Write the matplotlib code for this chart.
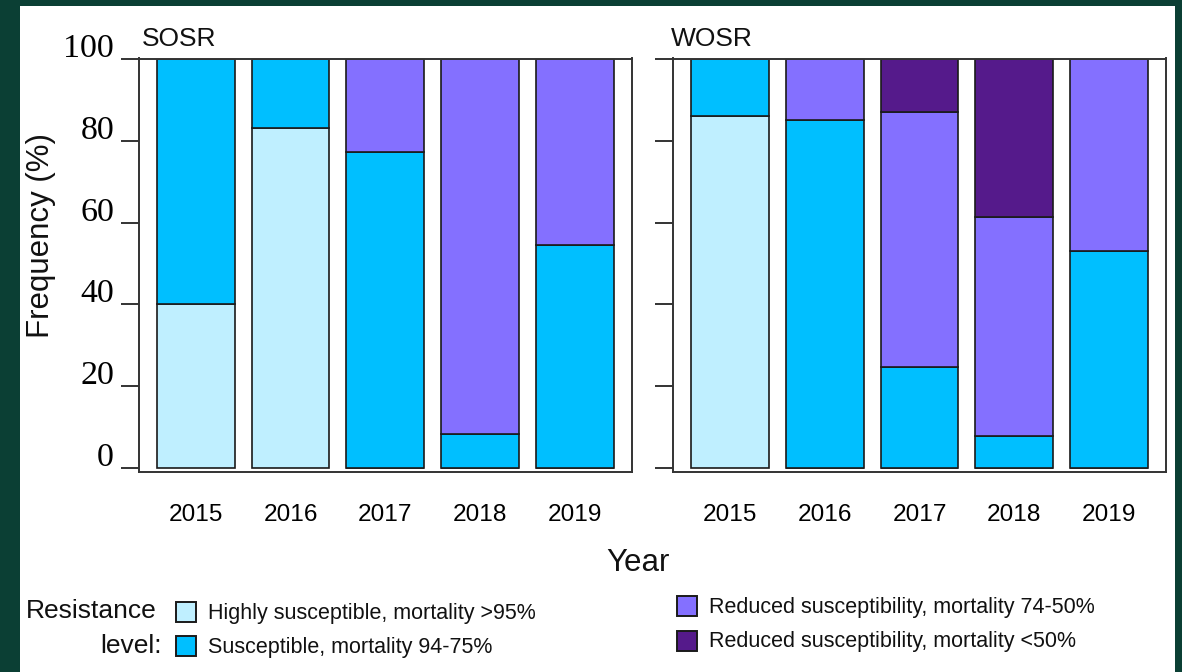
import matplotlib
matplotlib.use('Agg')
import matplotlib.pyplot as plt
from matplotlib import font_manager
from matplotlib.patches import Rectangle
from matplotlib.transforms import ScaledTranslation

# data (percent of populations per resistance class)
years = ['2015', '2016', '2017', '2018', '2019']
panels = ['SOSR', 'WOSR']

sosr_hs = [40.0, 83.2, 0, 0, 0]
sosr_s = [60.0, 16.8, 77.4, 8.3, 54.5]
sosr_rs = [0, 0, 22.6, 91.7, 45.5]
sosr_r = [0, 0, 0, 0, 0]

wosr_hs = [86.1, 0, 0, 0, 0]
wosr_s = [13.9, 85.2, 24.8, 7.7, 53.0]
wosr_rs = [0, 14.8, 62.3, 53.6, 47.0]
wosr_r = [0, 0, 12.9, 38.7, 0]

class_labels = ['Highly susceptible, mortality >95%',
                'Susceptible, mortality 94-75%',
                'Reduced susceptibility, mortality 74-50%',
                'Reduced susceptibility, mortality <50%']
class_colors = ['#BFEFFF', '#00BFFF', '#8470FF', '#551A8B']
yticks = [0, 20, 40, 60, 80, 100]

W, H = 1182, 672
names = set(f.name for f in font_manager.fontManager.ttflist)
if 'Liberation Sans Narrow' in names:
    narrow, nscale = 'Liberation Sans Narrow', 1.0
else:
    narrow, nscale = 'Liberation Sans', 0.9
sans = 'Liberation Sans'
serif = 'Liberation Serif'


def fx(px):
    return px / W


def fy(py):
    return 1 - py / H


fig = plt.figure(figsize=(W / 100, H / 100), dpi=100, facecolor='#0b3f34')
fig.patches.append(Rectangle((fx(20), 0), fx(1175) - fx(20), fy(6), transform=fig.transFigure,
                             facecolor='white', edgecolor='none', zorder=-5))

ax_left = fig.add_axes([fx(139), fy(472), fx(631.5) - fx(139), fy(58.5) - fy(472)])
ax_right = fig.add_axes([fx(673), fy(472), fx(1166) - fx(673), fy(58.5) - fy(472)])

data = [[sosr_hs, sosr_s, sosr_rs, sosr_r], [wosr_hs, wosr_s, wosr_rs, wosr_r]]
x = list(range(len(years)))
lift = ScaledTranslation(0, 14 / 100, fig.dpi_scale_trans)

for ax, name, stack in zip([ax_left, ax_right], panels, data):
    ax.set_facecolor('white')
    bottom = [0.0] * len(years)
    for vals, col in zip(stack, class_colors):
        ax.bar(x, vals, bottom=bottom, width=0.82, color=col, edgecolor='#1a1a1a', linewidth=1.2)
        bottom = [b + v for b, v in zip(bottom, vals)]
    ax.set_xlim(-0.6, 4.6)
    ax.set_ylim(-1, 100.2)
    ax.set_xticks(x)
    ax.set_xticklabels(years, family=narrow, fontsize=19.5 * nscale)
    ax.tick_params(axis='x', length=0, pad=23)
    ax.set_yticks(yticks)
    ax.tick_params(axis='y', length=13, width=1.4, color='#333333', pad=5)
    for sp in ax.spines.values():
        sp.set_linewidth(1.4)
        sp.set_color('#333333')

fig.text(fx(142), fy(46), panels[0], family=sans, fontsize=19, ha='left', va='baseline', color='#111111')
fig.text(fx(671), fy(46), panels[1], family=sans, fontsize=19, ha='left', va='baseline', color='#111111')

ax_left.set_yticklabels([str(t) for t in yticks], family=serif, fontsize=24.5)
for lab in ax_left.get_yticklabels():
    lab.set_transform(lab.get_transform() + lift)
ax_right.set_yticklabels([])

fig.text(fx(41), fy(235), 'Frequency (%)', rotation=90, ha='center', va='center',
         family=sans, fontsize=22.5, color='#111111')
fig.text(fx(638), fy(563), 'Year', ha='center', va='center', family=narrow,
         fontsize=25 * nscale, color='#111111')

# legend
fig.text(fx(157), fy(611), 'Resistance', ha='right', va='center', family=sans, fontsize=19, color='#111111')
fig.text(fx(162), fy(646), 'level:', ha='right', va='center', family=sans, fontsize=19, color='#111111')

legend_pos = [(176, 612), (176, 646), (677, 606), (677, 641)]
for (px, py), lab, col in zip(legend_pos, class_labels, class_colors):
    fig.patches.append(Rectangle((fx(px), fy(py + 10)), fx(20), 20 / H, transform=fig.transFigure,
                                 facecolor=col, edgecolor='#1a1a1a', linewidth=1.4, zorder=2))
    fig.text(fx(px + 32), fy(py + 1), lab, ha='left', va='center', family=sans, fontsize=15.5,
             color='#111111')

plt.savefig('out.png', dpi=100, facecolor=fig.get_facecolor())
